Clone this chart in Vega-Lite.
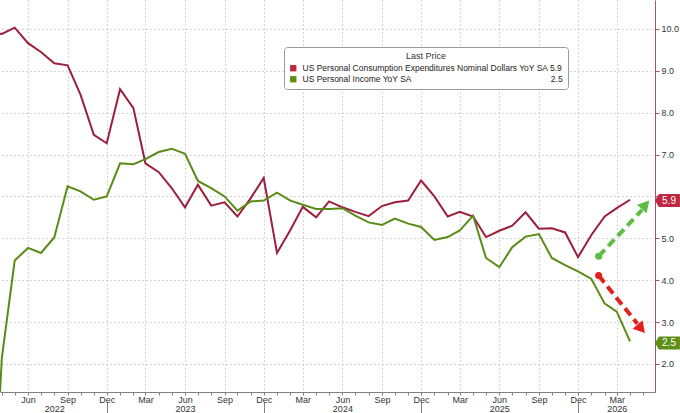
{
  "$schema": "https://vega.github.io/schema/vega-lite/v6.json",
  "width": 655,
  "height": 392,
  "autosize": {"type": "none"},
  "padding": {"left": 0, "top": 0, "right": 25, "bottom": 21},
  "background": "white",
  "config": {"font": "Liberation Sans", "view": {"stroke": null}},
  "datasets": {
    "series": [
      {"date": "2022-03-01", "pce": 9.9, "income": -4.0},
      {"date": "2022-04-01", "pce": 9.88, "income": 2.14},
      {"date": "2022-05-01", "pce": 10.03, "income": 4.47},
      {"date": "2022-06-01", "pce": 9.66, "income": 4.77},
      {"date": "2022-07-01", "pce": 9.45, "income": 4.65},
      {"date": "2022-08-01", "pce": 9.18, "income": 5.02},
      {"date": "2022-09-01", "pce": 9.13, "income": 6.24},
      {"date": "2022-10-01", "pce": 8.43, "income": 6.12},
      {"date": "2022-11-01", "pce": 7.47, "income": 5.92},
      {"date": "2022-12-01", "pce": 7.27, "income": 6.0},
      {"date": "2023-01-01", "pce": 8.56, "income": 6.79},
      {"date": "2023-02-01", "pce": 8.11, "income": 6.77},
      {"date": "2023-03-01", "pce": 6.79, "income": 6.89},
      {"date": "2023-04-01", "pce": 6.58, "income": 7.06},
      {"date": "2023-05-01", "pce": 6.2, "income": 7.14},
      {"date": "2023-06-01", "pce": 5.74, "income": 7.02},
      {"date": "2023-07-01", "pce": 6.28, "income": 6.37},
      {"date": "2023-08-01", "pce": 5.78, "income": 6.2},
      {"date": "2023-09-01", "pce": 5.86, "income": 6.0},
      {"date": "2023-10-01", "pce": 5.52, "income": 5.66},
      {"date": "2023-11-01", "pce": 5.96, "income": 5.88},
      {"date": "2023-12-01", "pce": 6.44, "income": 5.9},
      {"date": "2024-01-01", "pce": 4.65, "income": 6.09},
      {"date": "2024-02-01", "pce": 5.2, "income": 5.9},
      {"date": "2024-03-01", "pce": 5.75, "income": 5.8},
      {"date": "2024-04-01", "pce": 5.5, "income": 5.7},
      {"date": "2024-05-01", "pce": 5.88, "income": 5.7},
      {"date": "2024-06-01", "pce": 5.74, "income": 5.72},
      {"date": "2024-07-01", "pce": 5.63, "income": 5.54},
      {"date": "2024-08-01", "pce": 5.53, "income": 5.38},
      {"date": "2024-09-01", "pce": 5.77, "income": 5.32},
      {"date": "2024-10-01", "pce": 5.86, "income": 5.47},
      {"date": "2024-11-01", "pce": 5.9, "income": 5.35},
      {"date": "2024-12-01", "pce": 6.38, "income": 5.27},
      {"date": "2025-01-01", "pce": 6.0, "income": 4.96},
      {"date": "2025-02-01", "pce": 5.52, "income": 5.03},
      {"date": "2025-03-01", "pce": 5.63, "income": 5.19},
      {"date": "2025-04-01", "pce": 5.52, "income": 5.54},
      {"date": "2025-05-01", "pce": 5.03, "income": 4.53},
      {"date": "2025-06-01", "pce": 5.18, "income": 4.31},
      {"date": "2025-07-01", "pce": 5.3, "income": 4.79},
      {"date": "2025-08-01", "pce": 5.62, "income": 5.04},
      {"date": "2025-09-01", "pce": 5.23, "income": 5.1},
      {"date": "2025-10-01", "pce": 5.24, "income": 4.53},
      {"date": "2025-11-01", "pce": 5.14, "income": 4.36},
      {"date": "2025-12-01", "pce": 4.55, "income": 4.21},
      {"date": "2026-01-01", "pce": 5.08, "income": 4.03},
      {"date": "2026-02-01", "pce": 5.52, "income": 3.44},
      {"date": "2026-03-01", "pce": 5.72, "income": 3.25},
      {"date": "2026-04-01", "pce": 5.92, "income": 2.54}
    ],
    "last": [
      {"name": "PCE", "value": 5.9},
      {"name": "PI", "value": 2.5}
    ],
    "arrows": [
      {"arrow": "up", "part": "start", "date": "2026-01-18", "value": 4.57},
      {"arrow": "up", "part": "end", "date": "2026-04-29", "value": 5.68},
      {"arrow": "up", "part": "head", "date": "2026-05-07", "value": 5.8},
      {"arrow": "down", "part": "start", "date": "2026-01-18", "value": 4.11},
      {"arrow": "down", "part": "end", "date": "2026-04-18", "value": 2.96},
      {"arrow": "down", "part": "head", "date": "2026-04-27", "value": 2.84}
    ]
  },
  "layer": [
    {
      "data": {"name": "series"},
      "transform": [{"fold": ["pce", "income"], "as": ["series", "value"]}],
      "mark": {"type": "line", "strokeWidth": 2, "clip": true},
      "encoding": {
        "x": {
          "field": "date",
          "type": "temporal",
          "scale": {
            "type": "utc",
            "domain": [
              {"year": 2022, "month": 3, "date": 27, "hours": 19, "utc": true},
              {"year": 2026, "month": 5, "date": 29, "utc": true}
            ]
          },
          "axis": {
            "title": null,
            "orient": "bottom",
            "tickCount": {"interval": "month", "step": 1},
            "labelExpr": "utcmonth(datum.value) == 7 && utcyear(datum.value) == 2022 ? ['', '2022'] : (utcmonth(datum.value) == 5 && utcyear(datum.value) > 2022) ? ['Jun', utcFormat(datum.value, '%Y')] : (utcmonth(datum.value) == 2 && utcyear(datum.value) == 2026) ? ['Mar', '2026'] : utcmonth(datum.value) % 3 == 2 ? utcFormat(datum.value, '%b') : ''",
            "labelFontSize": 9,
            "labelColor": "#333",
            "labelLineHeight": 9.5,
            "labelOverlap": false,
            "labelBound": false,
            "labelFlush": false,
            "labelBaseline": "top",
            "labelPadding": -18,
            "tickSize": 21,
            "tickColor": "#808080",
            "tickDash": {"condition": {"test": "utcmonth(datum.value) == 11", "value": [3, 7, 12]}, "value": [3, 30]},
            "domainColor": "#808080",
            "grid": true,
            "gridColor": "#aaaaaa",
            "gridDash": [1, 3],
            "gridOpacity": {"condition": {"test": "utcmonth(datum.value) % 3 == 2", "value": 1}, "value": 0}
          }
        },
        "y": {
          "field": "value",
          "type": "quantitative",
          "scale": {"domain": [1.33, 10.69], "nice": false, "zero": false},
          "axis": {
            "title": null,
            "orient": "right",
            "values": [2, 3, 4, 5, 6, 7, 8, 9, 10],
            "format": ".1f",
            "labelExpr": "datum.value == 6 ? '' : datum.label",
            "labelFontSize": 9,
            "labelColor": "#333",
            "labelPadding": 2,
            "labelOverlap": false,
            "tickSize": 4,
            "tickColor": "#a35673",
            "domainColor": "#a35673",
            "grid": true,
            "gridColor": "#aaaaaa",
            "gridDash": [1, 3]
          }
        },
        "stroke": {
          "field": "series",
          "type": "nominal",
          "scale": {"domain": ["pce", "income"], "range": ["#9c1f3c", "#5b8b17"]},
          "legend": null
        }
      }
    },
    {
      "data": {"name": "arrows"},
      "transform": [{"filter": "datum.part != 'head'"}],
      "mark": {"type": "line", "strokeWidth": 4, "strokeDash": [9, 5], "clip": false},
      "encoding": {
        "x": {"field": "date", "type": "temporal"},
        "y": {"field": "value", "type": "quantitative"},
        "color": {
          "field": "arrow",
          "type": "nominal",
          "scale": {"domain": ["up", "down"], "range": ["#5cbf45", "#e3201b"]},
          "legend": null
        }
      }
    },
    {
      "data": {"name": "arrows"},
      "transform": [{"filter": "datum.part == 'start'"}],
      "mark": {"type": "point", "shape": "circle", "size": 50, "filled": true, "opacity": 1},
      "encoding": {
        "x": {"field": "date", "type": "temporal"},
        "y": {"field": "value", "type": "quantitative"},
        "color": {"field": "arrow", "type": "nominal", "legend": null}
      }
    },
    {
      "data": {"name": "arrows"},
      "transform": [{"filter": "datum.part == 'head' && datum.arrow == 'up'"}],
      "mark": {"type": "point", "shape": "triangle-up", "size": 170, "angle": 42, "filled": true, "opacity": 1, "color": "#5cbf45"},
      "encoding": {
        "x": {"field": "date", "type": "temporal"},
        "y": {"field": "value", "type": "quantitative"}
      }
    },
    {
      "data": {"name": "arrows"},
      "transform": [{"filter": "datum.part == 'head' && datum.arrow == 'down'"}],
      "mark": {"type": "point", "shape": "triangle-up", "size": 170, "angle": 140, "filled": true, "opacity": 1, "color": "#e3201b"},
      "encoding": {
        "x": {"field": "date", "type": "temporal"},
        "y": {"field": "value", "type": "quantitative"}
      }
    },
    {
      "data": {"name": "last"},
      "mark": {
        "type": "point",
        "shape": "M0,0L0.3,-0.5L1.92,-0.5L1.92,0.5L0.3,0.5Z",
        "size": 676,
        "filled": true,
        "opacity": 1,
        "strokeWidth": 0,
        "clip": false
      },
      "encoding": {
        "x": {"value": "width"},
        "y": {"field": "value", "type": "quantitative"},
        "fill": {
          "field": "name",
          "type": "nominal",
          "scale": {"domain": ["PCE", "PI"], "range": ["#c0263f", "#5f8f17"]},
          "legend": {
            "orient": "none",
            "legendX": 284,
            "legendY": 47,
            "title": "Last Price",
            "titleAnchor": "middle",
            "titleFontSize": 9,
            "titleFontWeight": "normal",
            "titleColor": "#333",
            "titlePadding": 3,
            "labelFontSize": 8.5,
            "labelColor": "#222",
            "labelLimit": 400,
            "labelOffset": 5,
            "labelExpr": "datum.value == 'PCE' ? 'US Personal Consumption Expenditures Nominal Dollars YoY SA 5.9' : 'US Personal Income YoY SA\u00a0\u00a0\u00a0\u00a0\u00a0\u00a0\u00a0\u00a0\u00a0\u00a0\u00a0\u00a0\u00a0\u00a0\u00a0\u00a0\u00a0\u00a0\u00a0\u00a0\u00a0\u00a0\u00a0\u00a0\u00a0\u00a0\u00a0\u00a0\u00a0\u00a0\u00a0\u00a0\u00a0\u00a0\u00a0\u00a0\u00a0\u00a0\u00a0\u00a0\u00a0\u00a0\u00a0\u00a0\u00a0\u00a0\u00a0\u00a0\u00a0\u00a0\u00a0\u00a0\u00a0\u00a0\u00a0\u00a0\u00a0\u00a0\u00a02.5'",
            "symbolType": "square",
            "symbolSize": 40,
            "symbolStrokeWidth": 0,
            "strokeColor": "#999999",
            "fillColor": "white",
            "padding": 5,
            "cornerRadius": 3,
            "rowPadding": 2
          }
        }
      }
    },
    {
      "data": {"name": "last"},
      "mark": {"type": "text", "dx": 14, "align": "center", "baseline": "middle", "fontSize": 10, "fill": "white", "clip": false},
      "encoding": {
        "x": {"value": "width"},
        "y": {"field": "value", "type": "quantitative"},
        "text": {"field": "value", "type": "quantitative", "format": ".1f"}
      }
    }
  ]
}
